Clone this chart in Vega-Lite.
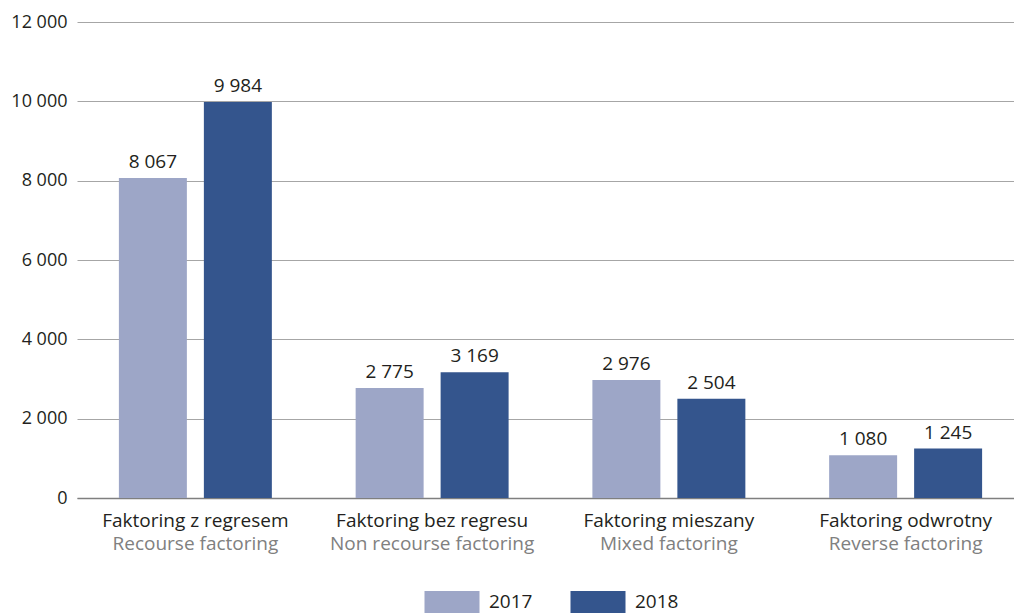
{
  "$schema": "https://vega.github.io/schema/vega-lite/v6.json",
  "autosize": {"type": "none"},
  "padding": {"left": 75, "top": 22, "right": 0, "bottom": 115},
  "width": 939,
  "height": 476,
  "data": {
    "values": [
      {"cat": "Faktoring z regresem", "year": "2017", "v": 8067},
      {"cat": "Faktoring z regresem", "year": "2018", "v": 9984},
      {"cat": "Faktoring bez regresu", "year": "2017", "v": 2775},
      {"cat": "Faktoring bez regresu", "year": "2018", "v": 3169},
      {"cat": "Faktoring mieszany", "year": "2017", "v": 2976},
      {"cat": "Faktoring mieszany", "year": "2018", "v": 2504},
      {"cat": "Faktoring odwrotny", "year": "2017", "v": 1080},
      {"cat": "Faktoring odwrotny", "year": "2018", "v": 1245}
    ]
  },
  "encoding": {
    "y": {
      "field": "v", "type": "quantitative",
      "scale": {"domain": [0, 12000], "nice": false},
      "axis": {
        "title": null, "values": [0, 2000, 4000, 6000, 8000, 10000, 12000],
        "format": ",d", "domain": false, "ticks": false, "grid": true,
        "gridColor": "#a6a6a6", "gridWidth": 1, "labelPadding": 8,
        "labelFont": "Open Sans", "labelFontSize": 18, "labelColor": "#231f20"
      }
    }
  },
  "layer": [
    {
      "mark": {"type": "bar"},
      "encoding": {
        "x": {
          "field": "cat", "type": "nominal", "sort": null,
          "scale": {"range": [2, 949], "paddingInner": 0, "paddingOuter": 0},
          "axis": {
            "title": null, "orient": "bottom", "labelAngle": 0, "ticks": false, "grid": false,
            "domainColor": "#7f7f7f", "domainWidth": 1.5, "labelPadding": 13, "labelLimit": 400,
            "labelFont": "Open Sans", "labelFontSize": 19, "labelColor": "#231f20"
          }
        },
        "xOffset": {
          "field": "year", "type": "nominal",
          "scale": {"paddingInner": 0.2, "paddingOuter": 0.493}
        },
        "color": {
          "field": "year", "type": "nominal",
          "scale": {"domain": ["2017", "2018"], "range": ["#9da6c7", "#34558d"]},
          "legend": {
            "title": null, "orient": "none", "direction": "horizontal",
            "legendX": 355, "legendY": 558, "padding": 0,
            "symbolType": "M-1.25,-0.5H1.25V0.5H-1.25Z", "symbolSize": 1936,
            "symbolStrokeWidth": 0, "symbolOpacity": 1,
            "labelOffset": 15, "columnPadding": 37,
            "labelFont": "Open Sans", "labelFontSize": 19, "labelColor": "#231f20"
          }
        }
      }
    },
    {
      "mark": {"type": "text", "baseline": "bottom", "dy": -6, "font": "Open Sans", "fontSize": 19, "color": "#231f20"},
      "encoding": {
        "x": {
          "field": "cat", "type": "nominal", "sort": null,
          "axis": {
            "title": null, "orient": "bottom", "labelAngle": 0, "ticks": false, "grid": false, "domain": false,
            "labelPadding": 13, "offset": 23, "labelLimit": 400,
            "labelExpr": "datum.label == 'Faktoring z regresem' ? 'Recourse  factoring' : datum.label == 'Faktoring bez regresu' ? 'Non recourse factoring' : datum.label == 'Faktoring mieszany' ? 'Mixed factoring' : 'Reverse factoring'",
            "labelFont": "Open Sans", "labelFontSize": 19, "labelColor": "#808080"
          }
        },
        "xOffset": {"field": "year", "type": "nominal"},
        "text": {"field": "v", "type": "quantitative", "format": ",d"}
      }
    }
  ],
  "resolve": {"axis": {"x": "independent"}},
  "config": {
    "view": {"stroke": null},
    "locale": {"number": {"decimal": ",", "thousands": " ", "grouping": [3], "currency": ["", ""]}}
  }
}
